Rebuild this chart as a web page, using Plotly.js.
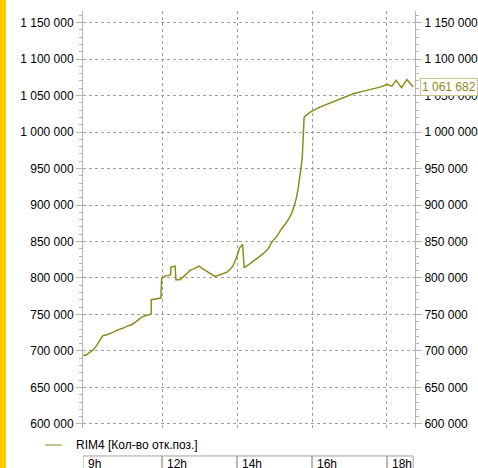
<!DOCTYPE html>
<html>
<head>
<meta charset="utf-8">
<script src="https://cdn.plot.ly/plotly-3.0.1.min.js"></script>
<style>html,body{margin:0;padding:0;background:#fff;}#chart{width:478px;height:468px;}</style>
</head>
<body>
<div id="chart"></div>
<script>
// Time of day (hours) and open interest values
const hours = [9.90, 9.97, 10.08, 10.17, 10.26, 10.35, 10.42, 10.53, 10.61, 10.70,
  10.79, 10.88, 10.97, 11.06, 11.19, 11.28, 11.37, 11.46, 11.55, 11.63,
  11.71, 11.715, 11.86, 11.97, 11.99, 12.08, 12.17, 12.23, 12.24, 12.35,
  12.37, 12.48, 12.61, 12.75, 12.83, 12.99, 13.06, 13.19, 13.33, 13.41,
  13.55, 13.73, 13.81, 13.90, 13.99, 14.08, 14.15, 14.19, 14.35, 14.53,
  14.70, 14.83, 14.93, 15.06, 15.19, 15.33, 15.39, 15.46, 15.53, 15.59,
  15.63, 15.68, 15.71, 15.74, 15.77, 15.78, 15.79, 15.95, 16.21, 16.48,
  16.75, 17.10, 17.46, 17.81, 18.01, 18.13, 18.24, 18.39, 18.53, 18.66, 18.70];
const openInterest = [694000, 694000, 698500, 701800, 707700, 715500, 721000, 722300, 724500, 725900,
  728200, 729600, 731400, 733700, 736000, 739200, 743300, 746400, 748300, 749700,
  750500, 770300, 771100, 772500, 799000, 802600, 803600, 804500, 814900, 816300,
  797700, 797700, 803500, 810400, 812200, 816300, 813500, 809000, 804900, 802200,
  804500, 808100, 811400, 817300, 828600, 842300, 846000, 814100, 819600, 826400,
  833300, 840100, 849200, 857000, 867500, 876600, 882600, 888900, 899500, 910800,
  922300, 938200, 951900, 965600, 988500, 1009000, 1020400, 1027300, 1034100, 1039600,
  1045600, 1052500, 1057000, 1061500, 1065200, 1062500, 1070700, 1060700, 1072000, 1063800, 1061682];
const seriesName = "RIM4 [Кол-во отк.поз.]";
const xTickLabels = ["9h", "12h", "14h", "16h", "18h"];
const xTickPos = [9.893, 12, 14, 16, 18];
const xBoxEnd = 18.70;

const olive = "#8c8c1e";
const axisGrey = "#b4b4b4";
const gridGrey = "#a0a0a0";
const font = "Liberation Sans, Arial, sans-serif";
const yRange = [594500, 1165760];
const xRange = [9.893, 18.747];

const fmt = v => Math.round(v).toString().replace(/\B(?=(\d{3})+(?!\d))/g, " ");
const last = openInterest[openInterest.length - 1];

const traces = [
  {x: hours, y: openInterest, type: "scatter", mode: "lines", name: seriesName,
   line: {color: olive, width: 1.5}, yaxis: "y", hoverinfo: "skip"},
  {x: hours, y: openInterest, type: "scatter", mode: "lines", showlegend: false,
   line: {color: "rgba(0,0,0,0)", width: 0}, yaxis: "y2", hoverinfo: "skip"}
];

const yCommon = {
  range: yRange, tickmode: "linear", tick0: 600000, dtick: 50000, tickformat: ",d",
  ticks: "outside", ticklen: 6, tickcolor: axisGrey, tickwidth: 1,
  showline: true, linecolor: axisGrey, linewidth: 1, zeroline: false,
  tickfont: {family: font, size: 12, color: "#000"},
  minor: {tick0: 600000, dtick: 10000, ticks: "outside", ticklen: 3, tickcolor: axisGrey, showgrid: false},
  fixedrange: true
};

const shapes = [
  {type: "rect", xref: "paper", yref: "paper", x0: -0.2500, x1: -0.2319, y0: -0.2, y1: 1.2,
   fillcolor: "#ffcc00", line: {width: 0}},
  {type: "line", xref: "paper", yref: "paper", x0: -0.1145, x1: -0.0633, y0: -0.0408, y1: -0.0408,
   line: {color: olive, width: 1}}
];
const annotations = [
  {xref: "paper", yref: "paper", x: -0.0271, y: -0.0408, xanchor: "left", yanchor: "middle",
   text: seriesName, showarrow: false, font: {family: font, size: 12, color: "#000"}},
  {xref: "paper", yref: "y2", x: 1.0165, y: last, xanchor: "left", yanchor: "middle",
   text: fmt(last), showarrow: false, bgcolor: "#fff", bordercolor: "#c8c88c", borderwidth: 1, borderpad: 1,
   font: {family: font, size: 12, color: olive}}
];
for (let i = 0; i < xTickPos.length; i++) {
  const x0 = xTickPos[i];
  const x1 = i + 1 < xTickPos.length ? xTickPos[i + 1] : xBoxEnd;
  shapes.push({type: "rect", xref: "x", yref: "paper", x0: x0, x1: x1, y0: -0.2, y1: -0.0671,
    line: {color: gridGrey, width: 1}, fillcolor: "rgba(0,0,0,0)"});
  annotations.push({xref: "x", yref: "paper", x: x0, y: -0.0863, xanchor: "left", yanchor: "middle",
    xshift: 3, text: xTickLabels[i], showarrow: false, font: {family: font, size: 12, color: "#000"}});
}

const layout = {
  width: 478, height: 468,
  margin: {l: 83, r: 63, t: 11, b: 40, pad: 0},
  paper_bgcolor: "#fff", plot_bgcolor: "#fff",
  showlegend: false,
  separators: ", ",
  font: {family: font, size: 12, color: "#000"},
  xaxis: {range: xRange, tickmode: "array", tickvals: [12, 14, 16, 18], showticklabels: false,
    ticks: "", showgrid: true, gridcolor: gridGrey, griddash: "3px,3px", gridwidth: 1,
    zeroline: false, showline: false, fixedrange: true},
  yaxis: Object.assign({}, yCommon, {side: "left", showgrid: true, gridcolor: gridGrey, griddash: "3px,3px", gridwidth: 1}),
  yaxis2: Object.assign({}, yCommon, {side: "right", overlaying: "y", anchor: "x", showgrid: false}),
  shapes: shapes,
  annotations: annotations
};

Plotly.newPlot("chart", traces, layout, {staticPlot: true, displayModeBar: false});
</script>
</body>
</html>
